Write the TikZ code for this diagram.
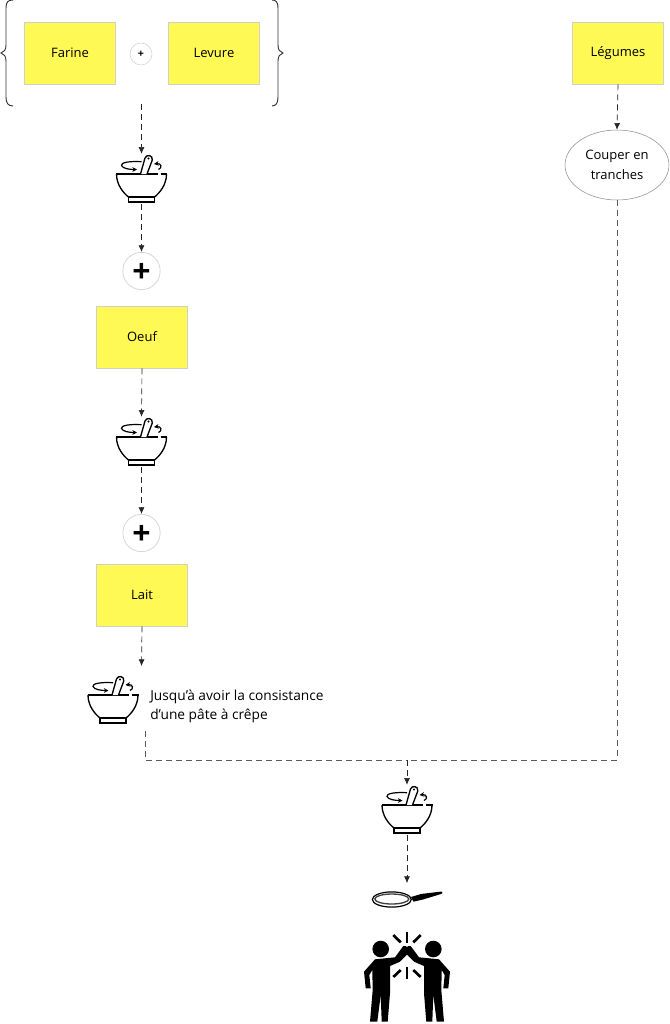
\documentclass[tikz,border=0pt]{standalone}
\usepackage{fontspec}
\setmainfont{Open Sans}
\usetikzlibrary{arrows.meta,shapes.geometric,positioning}
\definecolor{postityellow}{RGB}{255,249,85}
\definecolor{postitedge}{RGB}{208,208,200}
\definecolor{ringgray}{RGB}{214,214,214}
\definecolor{mergegray}{RGB}{90,90,90}

\begin{document}
\begin{tikzpicture}[
  x=0.75pt, y=-0.75pt,
  postit/.style={
    draw=postitedge,
    fill=postityellow,
    line width=0.6pt,
    minimum width=68.5pt,
    minimum height=46.5pt,
    align=center,
    inner sep=0pt,
    font=\fontsize{9.75}{14}\selectfont
  },
  action/.style={
    ellipse,
    draw=black!45,
    line width=0.4pt,
    minimum width=78pt,
    minimum height=52.5pt,
    align=center,
    inner sep=0pt,
    font=\fontsize{9.75}{14.5}\selectfont
  },
  smallplus/.style={
    circle, draw=ringgray, line width=0.5pt, minimum size=16.5pt, inner sep=0pt,
    font=\fontsize{8}{8}\selectfont\bfseries
  },
  bigplus/.style={
    circle, draw=ringgray, line width=0.6pt, minimum size=28pt, inner sep=0pt,
    font=\fontsize{24}{24}\selectfont\bfseries
  },
  iconbox/.style={minimum width=39pt, minimum height=37.5pt, inner sep=0pt},
  note/.style={align=left, anchor=west, inner sep=0pt, font=\fontsize{10.3}{14.3}\selectfont},
  line/.style={-{Latex[length=5pt,width=4.5pt]}, line width=0.5pt, dash pattern=on 4.5pt off 3pt, draw=black!85},
  merge/.style={line width=0.6pt, dash pattern=on 4.5pt off 3pt, draw=mergegray},
  brace/.style={line width=0.7pt, draw=black!80},
  icon/.style={line width=1pt, draw=black},
  bowl/.pic={
    \draw[icon] (-25.5,-5) -- (16,-5) (19,-5) -- (25.5,-5);
    \draw[icon] (-25,-5) .. controls (-25,6) and (-18,14) .. (-13,18) -- (13,18)
      .. controls (18,14) and (25,6) .. (25,-5);
    \draw[icon] (-13,18) rectangle (13,23);
    \draw[icon, fill=white] (-1,-5) -- (3.5,-21) .. controls (5,-25) and (11.5,-24) .. (10.8,-19) -- (5.5,-5);
    \fill (7,-20.5) circle (1.2);
    \draw[icon, line width=0.9pt, -{Stealth[length=3.5pt,width=3.5pt]}] (0,-17.3)
      .. controls (-12,-18) and (-21,-16.5) .. (-20,-13.5)
      .. controls (-19,-10.5) and (-12,-9.5) .. (-4.5,-9.5);
    \draw[icon, line width=0.9pt, -{Stealth[length=3.5pt,width=3.5pt]}] (17,-9.5)
      .. controls (21,-11) and (20,-16) .. (12.5,-15);
  },
  pan/.pic={
    \draw[line width=0.9pt] (-15.2,1.5) ellipse (19.5 and 7.6);
    \draw[line width=1pt, draw=black!75] (-15.2,1) ellipse (17 and 5);
    \fill (4,-1) -- (14,-4) -- (34.5,-6.5) .. controls (36,-5.5) and (36,-4.5) .. (34,-4)
      -- (16,1.5) -- (6.5,3.7) -- cycle;
  },
  person/.pic={
    \fill (-26.3,-28) circle (8.3);
    \fill (-32,-17.7) -- (-12,-19.7) -- (-3.7,-31) -- (-1,-31) -- (0,-29.5) -- (0,-22.5) -- (-7,-15.3) -- (-17,-11)
      -- (-17,16.3) -- (-19.3,44.7) -- (-25.3,44.7) -- (-26.3,18) -- (-29.7,44.7) -- (-37,44.7)
      -- (-34.3,13) -- (-34.7,-7) -- (-37.7,-2) -- (-36.3,11.3) -- (-41.3,11.3) -- (-43,-5.3) -- cycle;
  }
]
\useasboundingbox (0,0) rectangle (670,1024);

% Ingredients du haut
\node[postit] (farine) at (70,53) {Farine};
\node[smallplus] (plusa) at (141,54) {\raisebox{-3pt}[0pt][0pt]{+}};
\node[postit] (levure) at (214,53) {Levure};
\node[inner sep=0pt, minimum width=211.5pt, minimum height=78pt] (groupe) at (141.5,53) {};
\draw[brace] (13,0) .. controls (8,0) and (6,2) .. (6,8) -- (6,45) .. controls (6,50) and (4,52) .. (1,53)
  .. controls (4,54) and (6,56) .. (6,61) -- (6,97) .. controls (6,103) and (8,106) .. (13,106);
\draw[brace] (272,0) .. controls (276,0) and (278,2) .. (278,8) -- (278,45) .. controls (278,50) and (280,52) .. (283,53)
  .. controls (280,54) and (278,56) .. (278,61) -- (278,97) .. controls (278,103) and (276,106) .. (272,106);

% Colonne de gauche
\node[iconbox] (bowla) at (141.5,179) {};
\pic at (bowla) {bowl};
\node[bigplus] (plusb) at (141.5,271) {\raisebox{-8.9pt}[0pt][0pt]{+}};
\node[postit] (oeuf) at (142,337) {Oeuf};
\node[iconbox] (bowlb) at (141.5,442) {};
\pic at (bowlb) {bowl};
\node[bigplus] (plusc) at (141.5,533) {\raisebox{-8.9pt}[0pt][0pt]{+}};
\node[postit] (lait) at (142,595) {Lait};
\node[iconbox] (bowlc) at (113,700) {};
\pic at (bowlc) {bowl};
\node[note] (consist) at (150,706.5) {Jusqu’à avoir la consistance\\d’une pâte à crêpe};
\coordinate (laitend) at (141.5,666);
\coordinate (mergestart) at (145,731);

% Colonne de droite
\node[postit] (legumes) at (618,53) {Légumes};
\node[action] (couper) at (617,165) {Couper en\\tranches};

% Bas
\coordinate (mergejoin) at (407,760);
\node[iconbox] (bowld) at (407,810) {};
\pic at (bowld) {bowl};
\node[inner sep=0pt, minimum width=52pt, minimum height=22pt] (poele) at (407,898) {};
\pic at (poele) {pan};
\node[inner sep=0pt, minimum width=66pt, minimum height=70pt] (cuisiniers) at (407,977) {};
\pic at (cuisiniers) {person};
\pic[xscale=-1] at (cuisiniers) {person};
\foreach \xa/\ya/\xb/\yb in {0/-45/0/-34, -13.7/-42/-6.3/-34.7, 13.7/-42/6.3/-34.7, 0/-10/0/2, -13.7/0/-6.3/-7, 13.7/0/6.3/-7}
  \draw[line width=2pt] ([shift={(\xa,\ya)}]cuisiniers.center) -- ([shift={(\xb,\yb)}]cuisiniers.center);

% Connecteurs
\draw[line] (groupe.south) ++(0,-1) -- (bowla.north);
\draw[line] (bowla.south) -- (plusb.north);
\draw[line] (oeuf.south) -- (bowlb.north);
\draw[line] (bowlb.south) -- (plusc.north);
\draw[line] (lait.south) -- (laitend);
\draw[line] (legumes.south) -- (couper.north);
\draw[merge] (mergestart) |- (mergejoin);
\draw[merge] (couper.south) |- (mergejoin);
\draw[line] (mergejoin) -- (bowld.north);
\draw[line] (bowld.south) -- (poele.north);
\end{tikzpicture}
\end{document}
